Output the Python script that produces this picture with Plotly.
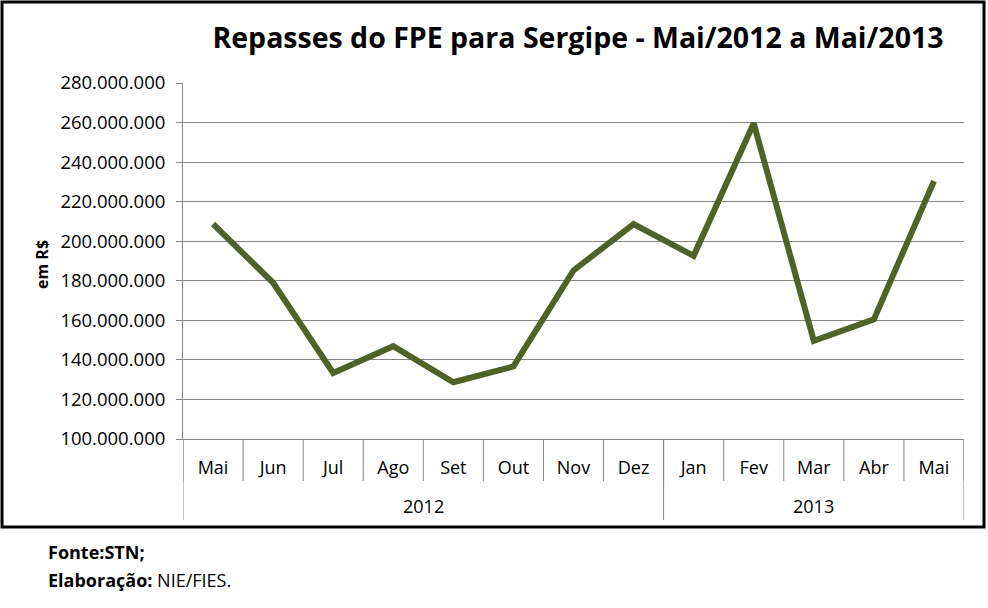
import plotly.graph_objects as go

months = ["Mai", "Jun", "Jul", "Ago", "Set", "Out", "Nov", "Dez", "Jan", "Fev", "Mar", "Abr", "Mai"]
years = ["2012", "2013"]
year_counts = [8, 5]
values = [208.7e6, 179.0e6, 133.4e6, 146.9e6, 128.7e6, 136.7e6, 185.2e6,
          208.7e6, 192.6e6, 259.6e6, 149.6e6, 160.5e6, 230.4e6]
y_ticks = [100e6, 120e6, 140e6, 160e6, 180e6, 200e6, 220e6, 240e6, 260e6, 280e6]

W, H = 988, 608
L, R, T, B = 183, 24, 83, 169
pw, ph = W - L - R, H - T - B

def px(xp):
    return (xp - L) / pw

def py(yp):
    return (H - B - yp) / ph

grid = "#868686"
font = "Open Sans"

x_idx = list(range(len(months)))
fig = go.Figure()
fig.add_trace(go.Scatter(x=x_idx, y=values, mode="lines",
                         line=dict(color="#4F6228", width=6), showlegend=False))

shapes = []
# month separators
for i in range(len(months) + 1):
    shapes.append(dict(type="line", xref="x", yref="paper", x0=i - 0.5, x1=i - 0.5,
                       y0=0, y1=py(481), line=dict(color=grid, width=1)))
# year separators
b = -0.5
bounds = [b]
for c in year_counts:
    b += c
    bounds.append(b)
for bx in bounds:
    shapes.append(dict(type="line", xref="x", yref="paper", x0=bx, x1=bx,
                       y0=0, y1=py(520), line=dict(color=grid, width=1)))
# outer frame
shapes.append(dict(type="rect", xref="paper", yref="paper",
                   x0=px(2), x1=px(984), y0=py(527), y1=py(2),
                   line=dict(color="black", width=3)))

annotations = []
for yr, b0, b1 in zip(years, bounds[:-1], bounds[1:]):
    annotations.append(dict(text=yr, xref="x", yref="paper", x=(b0 + b1) / 2, y=py(506),
                            showarrow=False, font=dict(family=font, size=18, color="black"),
                            xanchor="center", yanchor="middle"))
annotations.append(dict(text="<b>Fonte:STN;</b>", xref="paper", yref="paper",
                        x=px(46), y=py(552), xanchor="left", yanchor="middle", showarrow=False,
                        font=dict(family=font, size=18, color="black")))
annotations.append(dict(text="<b>Elaboração:</b> NIE/FIES.", xref="paper", yref="paper",
                        x=px(46), y=py(580), xanchor="left", yanchor="middle", showarrow=False,
                        font=dict(family=font, size=18, color="black")))
annotations.append(dict(text="<b>em R$</b>", xref="paper", yref="paper",
                        x=px(42), y=py(265), xanchor="center", yanchor="middle", textangle=-90,
                        showarrow=False, font=dict(family=font, size=16, color="black")))

fig.update_layout(
    width=W, height=H,
    margin=dict(l=L, r=R, t=T, b=B),
    paper_bgcolor="white", plot_bgcolor="white",
    separators=",.",
    title=dict(text="<b>Repasses do FPE para Sergipe - Mai/2012 a Mai/2013</b>",
               x=px(578), xref="paper", xanchor="center",
               y=1 - 38 / H, yref="container", yanchor="middle",
               font=dict(family=font, size=28.5, color="black")),
    shapes=shapes,
    annotations=annotations,
    font=dict(family=font, color="black"),
)
fig.update_xaxes(range=[-0.5, len(months) - 0.5], tickvals=x_idx, ticktext=months,
                 showgrid=False, zeroline=False, showline=True, linecolor=grid, linewidth=1,
                 ticks="", tickfont=dict(family=font, size=18, color="black"),
                 ticklabelstandoff=12)
fig.update_yaxes(range=[100e6, 280e6], tickvals=y_ticks, tickformat=",d",
                 showgrid=True, gridcolor=grid, gridwidth=1, zeroline=False,
                 showline=True, linecolor=grid, linewidth=1,
                 ticks="outside", ticklen=6, tickcolor=grid,
                 tickfont=dict(family=font, size=18.5, color="black"),
                 ticklabelstandoff=7)

fig.write_html("out.html", config={"displayModeBar": False},
               post_script="document.body.style.margin='0';")
